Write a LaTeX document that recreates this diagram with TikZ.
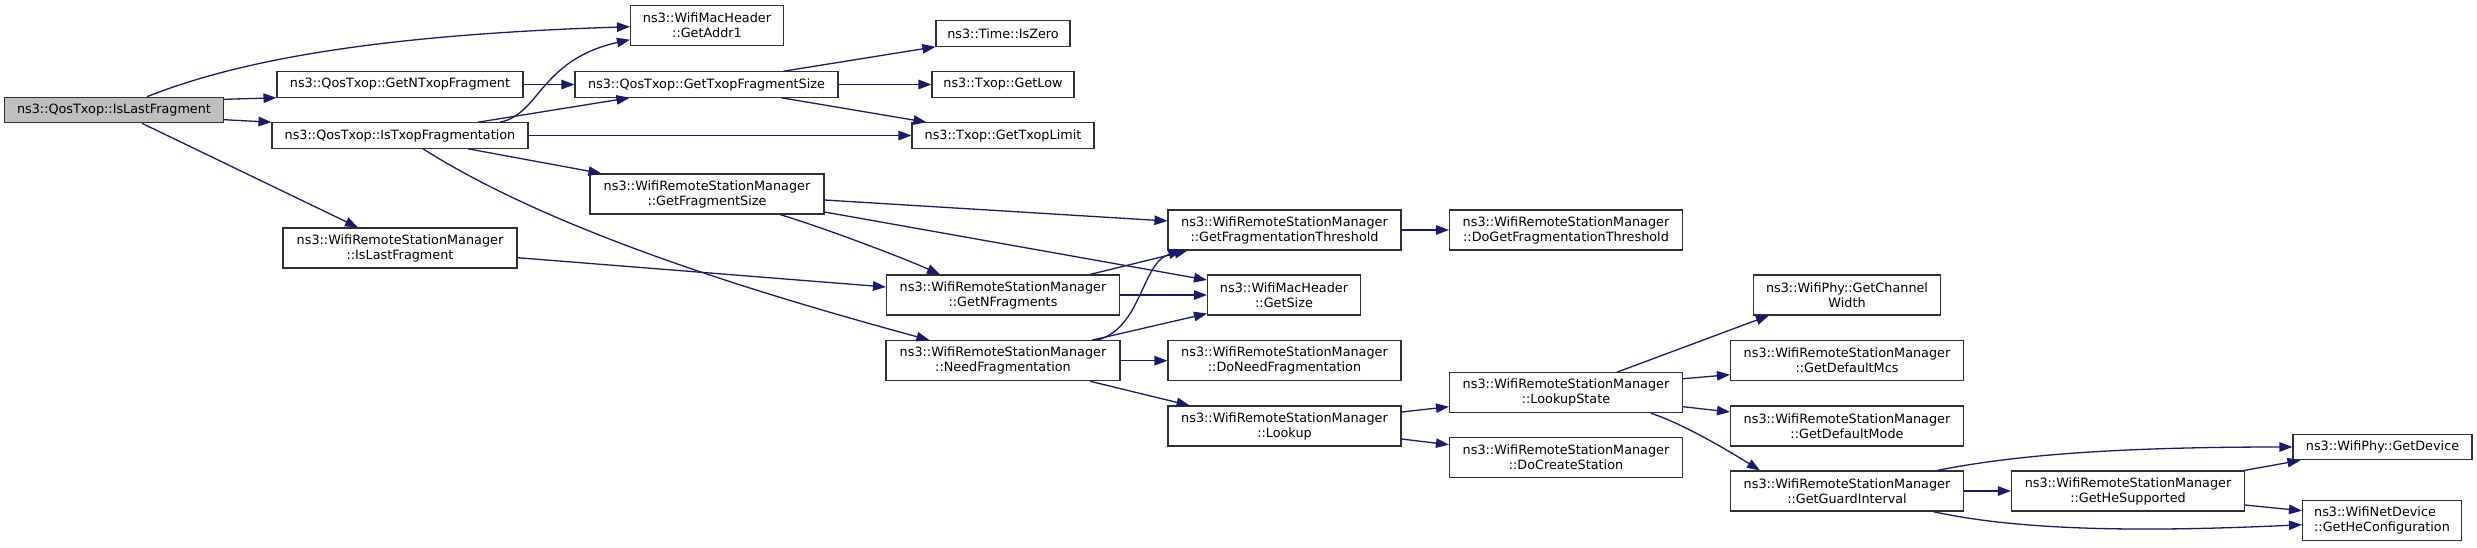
\documentclass[tikz,border=0pt]{standalone}
\usepackage{fontspec}
\setmainfont{DejaVu Sans}
\usetikzlibrary{arrows.meta,calc}
\definecolor{edgeblue}{HTML}{191970}
\definecolor{rootgray}{HTML}{BFBFBF}
\definecolor{boxline}{HTML}{303030}
\tikzset{
  fn/.style={draw=boxline, line width=1.1pt, fill=white, align=center, inner sep=0pt,
    font=\fontsize{12.8}{15}\selectfont, minimum height=40},
  fnone/.style={fn, minimum height=25.5},
  edge/.style={draw=edgeblue, line width=1.3pt, -{Triangle[length=13pt,width=9.5pt]}}
}
\begin{document}
\begin{tikzpicture}[x=1pt,y=-1pt]
\useasboundingbox (0,0) rectangle (2477,547);
% nodes
\node[fnone, fill=rootgray, minimum width=219] (root) at (114,110) {ns3::QosTxop::IsLastFragment};
\node[fn, minimum width=153] (addr1) at (707,25.7) {ns3::WifiMacHeader\\::GetAddr1};
\node[fnone, minimum width=246] (ntxop) at (400,84.5) {ns3::QosTxop::GetNTxopFragment};
\node[fnone, minimum width=256] (istxop) at (400,135.5) {ns3::QosTxop::IsTxopFragmentation};
\node[fn, minimum width=234] (wislast) at (400,248) {ns3::WifiRemoteStationManager\\::IsLastFragment};
\node[fnone, minimum width=263] (txopfs) at (706.5,84.5) {ns3::QosTxop::GetTxopFragmentSize};
\node[fn, minimum width=234] (fragsize) at (707,194) {ns3::WifiRemoteStationManager\\::GetFragmentSize};
\node[fnone, minimum width=134] (iszero) at (1003,33.5) {ns3::Time::IsZero};
\node[fnone, minimum width=142] (getlow) at (1003,84.5) {ns3::Txop::GetLow};
\node[fnone, minimum width=182] (txoplimit) at (1003,135.5) {ns3::Txop::GetTxopLimit};
\node[fn, minimum width=233] (nfrag) at (1003,295) {ns3::WifiRemoteStationManager\\::GetNFragments};
\node[fn, minimum width=234] (needfrag) at (1003,360.7) {ns3::WifiRemoteStationManager\\::NeedFragmentation};
\node[fn, minimum width=233] (fragthr) at (1284.5,230) {ns3::WifiRemoteStationManager\\::GetFragmentationThreshold};
\node[fn, minimum width=153] (getsize) at (1284,295) {ns3::WifiMacHeader\\::GetSize};
\node[fn, minimum width=233] (doneed) at (1284.5,360.7) {ns3::WifiRemoteStationManager\\::DoNeedFragmentation};
\node[fn, minimum width=233] (lookup) at (1284.5,426) {ns3::WifiRemoteStationManager\\::Lookup};
\node[fn, minimum width=233] (dogetthr) at (1566,230) {ns3::WifiRemoteStationManager\\::DoGetFragmentationThreshold};
\node[fn, minimum width=233] (lookupstate) at (1566,392.7) {ns3::WifiRemoteStationManager\\::LookupState};
\node[fn, minimum width=233] (docreate) at (1566,457.7) {ns3::WifiRemoteStationManager\\::DoCreateStation};
\node[fn, minimum width=187] (chwidth) at (1847,295) {ns3::WifiPhy::GetChannel\\Width};
\node[fn, minimum width=233] (defmcs) at (1847,360.7) {ns3::WifiRemoteStationManager\\::GetDefaultMcs};
\node[fn, minimum width=233] (defmode) at (1847,426) {ns3::WifiRemoteStationManager\\::GetDefaultMode};
\node[fn, minimum width=233] (guard) at (1847,491) {ns3::WifiRemoteStationManager\\::GetGuardInterval};
\node[fn, minimum width=233] (hesup) at (2128,491) {ns3::WifiRemoteStationManager\\::GetHeSupported};
\node[fnone, minimum width=179] (getdev) at (2382.5,447) {ns3::WifiPhy::GetDevice};
\node[fn, minimum width=159, align=left] (heconf) at (2382,520.7) {ns3::WifiNetDevice\\::GetHeConfiguration};
% edges
\draw[edge] ($(root.north)+(33,0)$) .. controls +(93,-37) and +(-250,8) .. ($(addr1.west)+(0,1)$);
\draw[edge] ($(root.east)+(0,-10.7)$) -- (ntxop.south west);
\draw[edge] ($(root.east)+(0,9.7)$) -- (istxop.north west);
\draw[edge] ($(root.south)+(28,0)$) -- ($(wislast.north)+(-42,0)$);
\draw[edge] (ntxop.east) -- (txopfs.west);
\draw[edge] ($(istxop.north)+(100,0)$) .. controls +(40,-8) and +(-90,20) .. ($(addr1.west)+(0,14)$);
\draw[edge] ($(istxop.north)+(78,0)$) -- ($(txopfs.south west)+(55,0)$);
\draw[edge] (istxop.east) -- (txoplimit.west);
\draw[edge] ($(istxop.south)+(68,0)$) -- ($(fragsize.north west)+(12,0)$);
\draw[edge] ($(istxop.south)+(23,0)$) .. controls +(137,87) and +(-150,-41) .. ($(needfrag.north west)+(44,0)$);
\draw[edge] ($(txopfs.north)+(77,0)$) -- (iszero.south west);
\draw[edge] (txopfs.east) -- (getlow.west);
\draw[edge] ($(txopfs.south)+(75,0)$) -- ($(txoplimit.north west)+(15,0)$);
\draw[edge] ($(fragsize.east)+(0,6)$) -- ($(fragthr.west)+(0,-9)$);
\draw[edge] ($(fragsize.east)+(0,18)$) -- ($(getsize.west)+(0,-15)$);
\draw[edge] ($(fragsize.south)+(73,0)$) .. controls +(40,12) and +(-40,-18) .. ($(nfrag.north)+(-63,0)$);
\draw[edge] ($(wislast.east)+(0,9.7)$) -- ($(nfrag.west)+(0,-8)$);
\draw[edge] ($(nfrag.north)+(87,0)$) -- ($(fragthr.south west)+(20,0)$);
\draw[edge] (nfrag.east) -- (getsize.west);
\draw[edge] ($(needfrag.north)+(94,0)$) .. controls +(45,-12) and +(-40,12) .. ($(fragthr.south west)+(14,0)$);
\draw[edge] ($(needfrag.north)+(89,0)$) -- ($(getsize.south west)+(0,-2)$);
\draw[edge] (needfrag.east) -- (doneed.west);
\draw[edge] ($(needfrag.south)+(87,0)$) -- ($(lookup.north west)+(22,0)$);
\draw[edge] (fragthr.east) -- (dogetthr.west);
\draw[edge] ($(lookup.east)+(0,-14)$) -- ($(lookupstate.west)+(0,14)$);
\draw[edge] ($(lookup.east)+(0,13)$) -- ($(docreate.west)+(0,-13)$);
\draw[edge] ($(lookupstate.north)+(51,0)$) -- ($(chwidth.south west)+(16,0)$);
\draw[edge] ($(lookupstate.east)+(0,-14)$) -- ($(defmcs.west)+(0,14)$);
\draw[edge] ($(lookupstate.east)+(0,14)$) -- ($(defmode.west)+(0,-14)$);
\draw[edge] ($(lookupstate.south)+(85,0)$) .. controls +(30,10) and +(-40,-25) .. ($(guard.north west)+(30,0)$);
\draw[edge] ($(guard.north)+(90,0)$) .. controls +(80,-16) and +(-170,0) .. (getdev.west);
\draw[edge] (guard.east) -- (hesup.west);
\draw[edge] ($(guard.south)+(86,0)$) .. controls +(90,20) and +(-150,7) .. ($(heconf.west)+(0,4)$);
\draw[edge] ($(hesup.north east)+(-1,0)$) -- ($(getdev.south west)+(8,0)$);
\draw[edge] ($(hesup.east)+(0,14)$) -- ($(heconf.west)+(0,-10)$);
\end{tikzpicture}
\end{document}
